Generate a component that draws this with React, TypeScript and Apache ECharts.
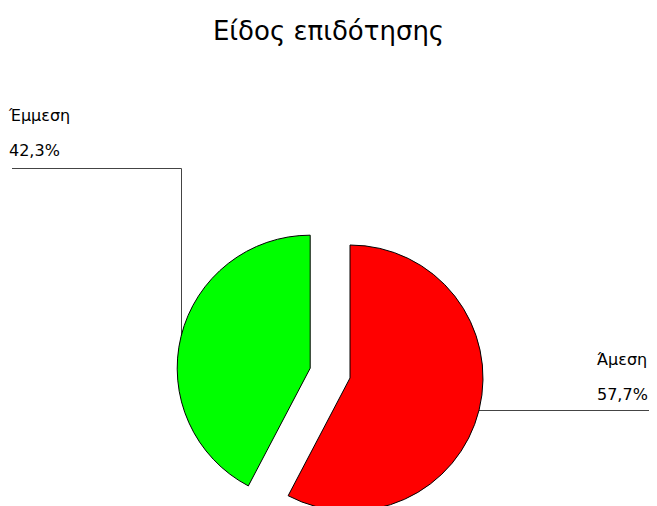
import React, { useEffect, useRef } from "react";
import * as echarts from "echarts";

const titleText = "Είδος επιδότησης";
const categories = ["Άμεση", "Έμμεση"];
const values = [57.7, 42.3];
const colors = ["#FF0000", "#00FF00"];
const explodedIndex = 1;

const FONT = "DejaVu Sans, Liberation Sans, Arial, sans-serif";

export default function App() {
  const ref = useRef<HTMLDivElement>(null);
  useEffect(() => {
    if (!ref.current) return;
    const chart = echarts.init(ref.current, null, { renderer: "svg" });
    const cx = 350;
    const cy = 378;
    const r = 133;
    const offset = 41;
    const total = values.reduce((a, b) => a + b, 0);

    const fmt = (p: any) =>
      p.name + "\n" + ((p.value / total) * 100).toFixed(1).replace(".", ",") + "%";

    const series = categories.map((_, si) => {
      let before = 0;
      for (let k = 0; k < si; k++) before += values[k];
      const midFrac = (before + values[si] / 2) / total;
      const ang = midFrac * Math.PI * 2;
      const off = si === explodedIndex ? offset : 0;
      const scx = cx + Math.sin(ang) * off;
      const scy = cy - Math.cos(ang) * off;
      return {
        type: "pie",
        center: [scx, scy],
        radius: r,
        startAngle: 90,
        clockwise: true,
        avoidLabelOverlap: false,
        silent: true,
        emphasis: { disabled: true },
        label: {
          show: true,
          position: "outside",
          fontFamily: FONT,
          fontSize: 16,
          color: "#000",
          lineHeight: 35,
          formatter: fmt,
        },
        labelLine: {
          show: true,
          lineStyle: { color: "#444", width: 1 },
        },
        labelLayout: (params: any) => {
          if (params.dataIndex !== si) return {};
          if (si === explodedIndex) {
            return {
              x: 9,
              y: 133,
              align: "left",
              verticalAlign: "middle",
              labelLinePoints: [
                [181.5, 336],
                [181.5, 168.5],
                [12, 168.5],
              ],
            };
          }
          return {
            x: 597,
            y: 377,
            align: "left",
            verticalAlign: "middle",
            labelLinePoints: [
              [479, 410.5],
              [564, 410.5],
              [649, 410.5],
            ],
          };
        },
        data: categories.map((name, i) =>
          i === si
            ? {
                name,
                value: values[i],
                itemStyle: { color: colors[i], borderColor: "#000", borderWidth: 1 },
              }
            : {
                name,
                value: values[i],
                itemStyle: { color: "rgba(0,0,0,0)", borderWidth: 0 },
                label: { show: false },
                labelLine: { show: false },
              }
        ),
      };
    });

    chart.setOption({
      animation: false,
      backgroundColor: "#ffffff",
      title: {
        text: titleText,
        left: "center",
        top: 13,
        textStyle: {
          fontFamily: FONT,
          fontSize: 26,
          fontWeight: "normal",
          color: "#000",
        },
      },
      series,
    });
    return () => chart.dispose();
  }, []);
  return (
    <div
      ref={ref}
      style={{ position: "absolute", left: 0, top: 0, width: 657, height: 506 }}
    />
  );
}
